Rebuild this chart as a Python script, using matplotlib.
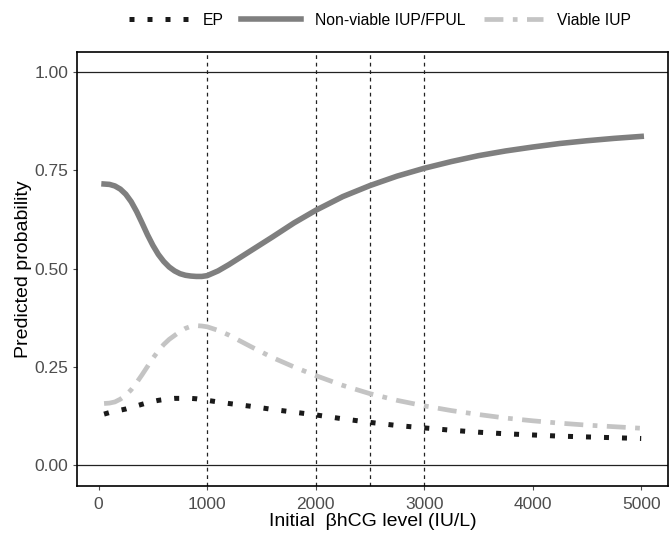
import matplotlib.pyplot as plt

plt.rcParams['font.family'] = ['Liberation Sans', 'DejaVu Sans']

# initial beta-hCG level (IU/L)
hcg = [50, 100, 150, 200, 250, 300, 350, 400, 450, 500, 550, 600, 650, 700, 750,
       800, 850, 900, 950, 1000, 1100, 1200, 1400, 1600, 1800, 2000, 2250, 2500,
       2750, 3000, 3250, 3500, 3750, 4000, 4250, 4500, 4750, 5000]

ep = [0.130, 0.134, 0.137, 0.140, 0.143, 0.147, 0.151, 0.155, 0.159, 0.162,
      0.165, 0.167, 0.169, 0.170, 0.170, 0.170, 0.170, 0.169, 0.167, 0.165,
      0.161, 0.157, 0.150, 0.142, 0.135, 0.128, 0.118, 0.109, 0.101, 0.095,
      0.089, 0.084, 0.080, 0.077, 0.074, 0.072, 0.070, 0.068]

nonviable = [0.715, 0.714, 0.710, 0.702, 0.689, 0.670, 0.645, 0.616, 0.586, 0.559,
             0.536, 0.518, 0.504, 0.494, 0.487, 0.483, 0.481, 0.480, 0.480, 0.482,
             0.494, 0.510, 0.545, 0.580, 0.616, 0.648, 0.683, 0.711, 0.735, 0.755,
             0.772, 0.787, 0.799, 0.809, 0.818, 0.825, 0.831, 0.836]

viable = [0.157, 0.158, 0.161, 0.168, 0.178, 0.192, 0.210, 0.230, 0.251, 0.272,
          0.291, 0.307, 0.320, 0.330, 0.340, 0.348, 0.353, 0.355, 0.354, 0.352,
          0.343, 0.331, 0.302, 0.274, 0.250, 0.228, 0.203, 0.182, 0.165, 0.151,
          0.139, 0.129, 0.120, 0.113, 0.107, 0.102, 0.098, 0.094]

cutoffs = [1000, 2000, 2500, 3000]
x_ticks = [0, 1000, 2000, 3000, 4000, 5000]
y_ticks = [0.00, 0.25, 0.50, 0.75, 1.00]

fig = plt.figure(figsize=(6.69, 5.33), dpi=100)
ax = fig.add_axes([0.115, 0.088, 0.884, 0.814])

ax.plot(hcg, ep, color='#1a1a1a', lw=3.6, linestyle=(0, (1, 2.6)),
        dash_capstyle='butt', label='EP')
ax.plot(hcg, nonviable, color='#7f7f7f', lw=4, label='Non-viable IUP/FPUL')
ax.plot(hcg, viable, color='#c4c4c4', lw=3.4,
        linestyle=(0, (4, 2, 1, 2)), label='Viable IUP')

for c in cutoffs:
    ax.axvline(c, color='#222222', lw=0.9, linestyle=(0, (3, 3)), zorder=1)
for yv in [0.0, 1.0]:
    ax.axhline(yv, color='#222222', lw=0.9, zorder=1)

ax.set_xlim(-200, 5250)
ax.set_ylim(-0.053, 1.05)
ax.set_xticks(x_ticks)
ax.set_yticks(y_ticks)
ax.set_yticklabels([f'{v:.2f}' for v in y_ticks])
ax.tick_params(colors='#4d4d4d', labelsize=12.5, length=3, width=0.8, pad=3)
ax.tick_params(axis='x', pad=4.5)
for s in ax.spines.values():
    s.set_color('black')
    s.set_linewidth(1.2)

ax.set_xlabel('Initial  \u03b2hCG level (IU/L)', fontsize=14, labelpad=1)
ax.set_ylabel('Predicted probability', fontsize=14, labelpad=2)

fig.legend(loc='upper center', bbox_to_anchor=(0.568, 1.003), ncol=3,
           frameon=False, fontsize=11.3, handlelength=3.8, handletextpad=0.9,
           columnspacing=1.15)

fig.savefig('out.png', dpi=100)
